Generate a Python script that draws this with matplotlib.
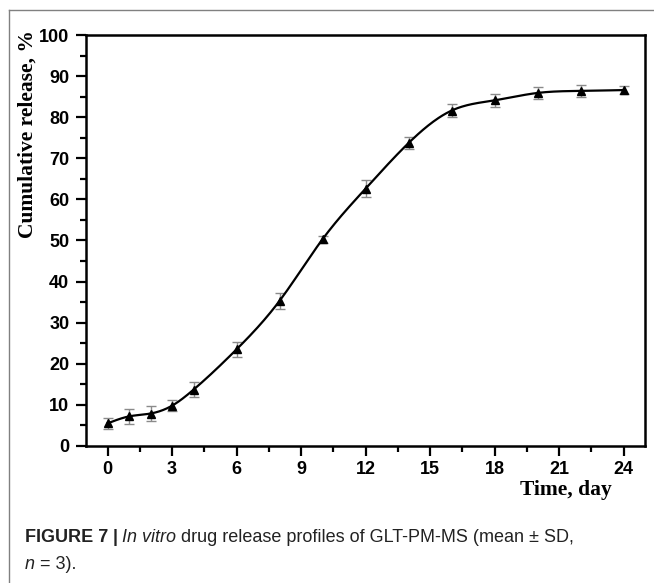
import numpy as np
import matplotlib
matplotlib.use('Agg')
import matplotlib.pyplot as plt
from matplotlib.lines import Line2D
from matplotlib.ticker import MultipleLocator

# data
time_day = [0, 1, 2, 3, 4, 6, 8, 10, 12, 14, 16, 18, 20, 22, 24]
release = [5.5, 7.2, 7.9, 9.8, 13.7, 23.5, 35.3, 50.3, 62.6, 73.7, 81.6, 84.1, 85.9, 86.4, 86.6]
release_sd = [1.3, 1.8, 1.9, 1.3, 1.8, 1.8, 2.0, 0.8, 2.0, 1.4, 1.5, 1.5, 1.5, 1.5, 1.0]
x_ticks = [0, 3, 6, 9, 12, 15, 18, 21, 24]
y_ticks = [0, 10, 20, 30, 40, 50, 60, 70, 80, 90, 100]


def natural_spline(x, y, n=400):
	# smooth drawing curve through the measured points
	x = np.asarray(x, float)
	y = np.asarray(y, float)
	k = len(x)
	h = np.diff(x)
	A = np.zeros((k, k))
	b = np.zeros(k)
	A[0, 0] = 1
	A[-1, -1] = 1
	for i in range(1, k - 1):
		A[i, i - 1] = h[i - 1]
		A[i, i] = 2 * (h[i - 1] + h[i])
		A[i, i + 1] = h[i]
		b[i] = 3 * ((y[i + 1] - y[i]) / h[i] - (y[i] - y[i - 1]) / h[i - 1])
	c = np.linalg.solve(A, b)
	xs = np.linspace(x[0], x[-1], n)
	idx = np.clip(np.searchsorted(x, xs) - 1, 0, k - 2)
	dx = xs - x[idx]
	hi = h[idx]
	bi = (y[idx + 1] - y[idx]) / hi - hi * (2 * c[idx] + c[idx + 1]) / 3
	di = (c[idx + 1] - c[idx]) / (3 * hi)
	ys = y[idx] + bi * dx + c[idx] * dx ** 2 + di * dx ** 3
	return xs, ys


fig = plt.figure(figsize=(6.54, 5.83), dpi=100)
ax = fig.add_axes([86 / 654, 1 - 446 / 583, (645 - 86) / 654, (446 - 35) / 583])

xs, ys = natural_spline(time_day, release)
ax.plot(xs, ys, color='black', lw=1.6, zorder=3)
ax.errorbar(time_day, release, yerr=release_sd, fmt='none', ecolor='#8a8a8a',
	elinewidth=1.0, capsize=3.5, capthick=1.0, zorder=2)
ax.plot(time_day, release, linestyle='none', marker='^', color='black', markersize=6, zorder=4)

ax.set_xlim(-1, 25)
ax.set_ylim(0, 100)
ax.set_xticks(x_ticks)
ax.set_yticks(y_ticks)
ax.xaxis.set_minor_locator(MultipleLocator(1.5))
ax.yaxis.set_minor_locator(MultipleLocator(5))
ax.tick_params(which='major', direction='out', length=7, width=1.6, labelsize=13, pad=5)
ax.tick_params(axis='x', which='major', pad=4)
ax.tick_params(which='minor', direction='out', length=4, width=1.6)
for lab in ax.get_xticklabels() + ax.get_yticklabels():
	lab.set_fontfamily('Liberation Sans')
	lab.set_fontweight('bold')
for sp in ax.spines.values():
	sp.set_linewidth(1.8)

fig.text(28 / 654, 1 - 134 / 583, 'Cumulative release, %', rotation=90, ha='center', va='center',
	fontfamily='Liberation Serif', fontweight='bold', fontsize=15.5)
fig.text(612 / 654, 1 - 495 / 583, 'Time, day', ha='right', va='baseline',
	fontfamily='Liberation Serif', fontweight='bold', fontsize=15.5)

# outer frame (left and top edges)
fig.add_artist(Line2D([9 / 654, 9 / 654], [0, 1 - 10 / 583], color='#808080', lw=1, transform=fig.transFigure))
fig.add_artist(Line2D([9 / 654, 1], [1 - 10 / 583, 1 - 10 / 583], color='#808080', lw=1, transform=fig.transFigure))

# caption with mixed styles
renderer = fig.canvas.get_renderer()
cap_color = '#222222'
pieces = [('FIGURE 7', 'bold', 'normal'), ('|', 'bold', 'normal'), ('In vitro', 'normal', 'italic'),
	('drug release profiles of GLT-PM-MS (mean ± SD,', 'normal', 'normal')]
x = 25
space = 4.5
for txt, weight, style in pieces:
	t = fig.text(x / 654, 1 - 542 / 583, txt, ha='left', va='baseline', fontfamily='Liberation Sans',
		fontweight=weight, fontstyle=style, fontsize=13, color=cap_color)
	x = x + t.get_window_extent(renderer).width + space
pieces2 = [('n', 'normal', 'italic'), ('= 3).', 'normal', 'normal')]
x = 25
for txt, weight, style in pieces2:
	t = fig.text(x / 654, 1 - 569 / 583, txt, ha='left', va='baseline', fontfamily='Liberation Sans',
		fontweight=weight, fontstyle=style, fontsize=13, color=cap_color)
	x = x + t.get_window_extent(renderer).width + space

fig.savefig('out.png', dpi=100)
